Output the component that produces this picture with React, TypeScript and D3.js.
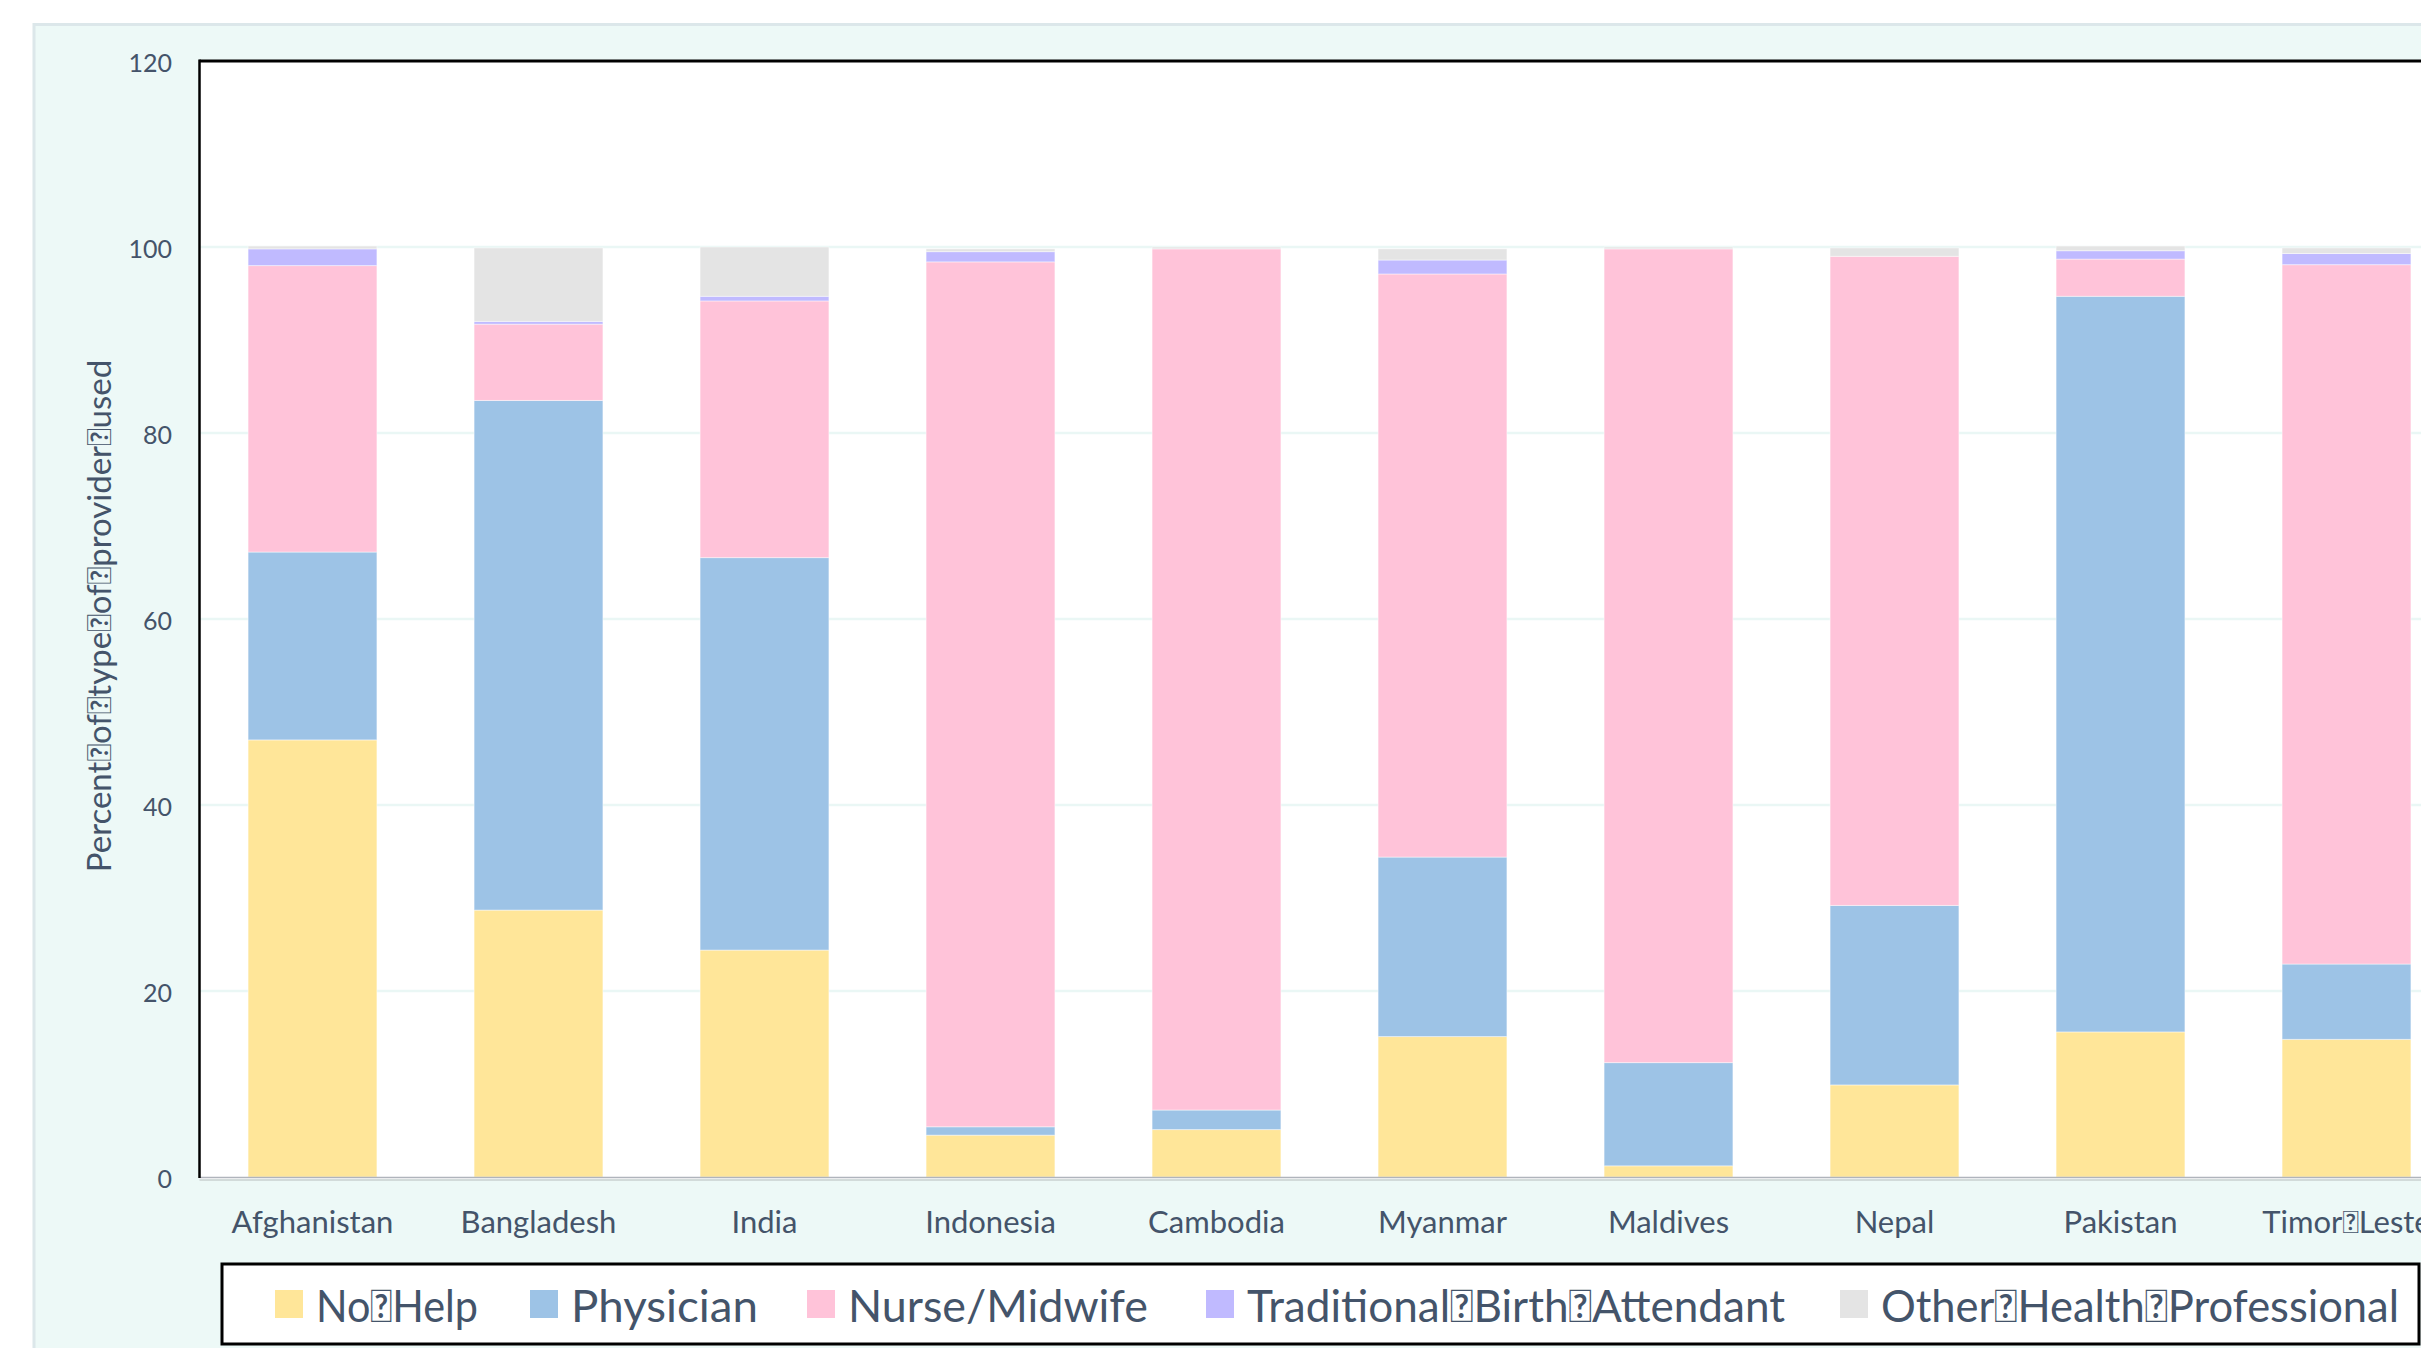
import React, { useEffect, useRef } from "react";
import * as d3 from "d3";

const SEP = "\uF020";

const countries = [
  "Afghanistan",
  "Bangladesh",
  "India",
  "Indonesia",
  "Cambodia",
  "Myanmar",
  "Maldives",
  "Nepal",
  "Pakistan",
  `Timor${SEP}Leste`,
];

const noHelp = [47.0, 28.7, 24.4, 4.5, 5.1, 15.1, 1.2, 9.9, 15.6, 14.8];
const physician = [20.2, 54.8, 42.2, 0.9, 2.1, 19.3, 11.1, 19.3, 79.1, 8.1];
const nurseMidwife = [30.8, 8.2, 27.6, 93.0, 92.6, 62.7, 87.5, 69.8, 4.0, 75.2];
const traditionalBirthAttendant = [1.8, 0.3, 0.5, 1.1, 0.0, 1.5, 0.0, 0.0, 0.9, 1.2];
const otherHealthProfessional = [0.3, 7.9, 5.3, 0.3, 0.2, 1.2, 0.2, 0.9, 0.5, 0.6];

const seriesNames = [
  `No${SEP}Help`,
  "Physician",
  "Nurse/Midwife",
  `Traditional${SEP}Birth${SEP}Attendant`,
  `Other${SEP}Health${SEP}Professional`,
];
const seriesColors = ["#FFE699", "#9DC3E6", "#FFC3D9", "#C0BAFF", "#E4E4E4"];

const yTicks = [0, 20, 40, 60, 80, 100, 120];
const yTitle = `Percent${SEP}of${SEP}type${SEP}of${SEP}provider${SEP}used`;

const W = 2421;
const H = 1348;
const FONT = "Lato, 'Open Sans', sans-serif";
const TEXT = "#44546A";

// legend layout (pixel positions of swatches and text widths in the picture)
const legendX = [275, 530, 807, 1206, 1840];
const legendTextW = [162, 187, 300, 538, 518];

export default function App() {
  const ref = useRef<SVGSVGElement | null>(null);

  useEffect(() => {
    const svg = d3.select(ref.current);
    svg.selectAll("*").remove();

    const plotLeft = 199.5;
    const plotTop = 61;
    const plotBottom = 1177;
    const step = 226;
    const plotRight = plotLeft + step * countries.length;

    const x = d3
      .scaleBand<string>()
      .domain(countries)
      .range([plotLeft, plotRight])
      .paddingInner(0.43)
      .paddingOuter(0.215);
    const y = d3.scaleLinear().domain([0, 120]).range([plotBottom, plotTop]);

    // outer panel
    svg
      .append("rect")
      .attr("x", 34)
      .attr("y", 24.5)
      .attr("width", W)
      .attr("height", H)
      .attr("fill", "#EDF9F7")
      .attr("stroke", "#DCE7EA")
      .attr("stroke-width", 3);

    // plot area
    svg
      .append("rect")
      .attr("x", plotLeft)
      .attr("y", plotTop)
      .attr("width", plotRight - plotLeft)
      .attr("height", plotBottom - plotTop + 2)
      .attr("fill", "#FFFFFF");

    // gridlines
    svg
      .append("g")
      .selectAll("line")
      .data(yTicks.filter((t) => t > 0 && t < 120))
      .join("line")
      .attr("x1", plotLeft)
      .attr("x2", plotRight)
      .attr("y1", (d) => y(d))
      .attr("y2", (d) => y(d))
      .attr("stroke", "#EAF7F5")
      .attr("stroke-width", 2.5);

    // stacked data
    const rows = countries.map((c, i) => ({
      country: c,
      s0: noHelp[i],
      s1: physician[i],
      s2: nurseMidwife[i],
      s3: traditionalBirthAttendant[i],
      s4: otherHealthProfessional[i],
    }));
    const stack = d3.stack<any>().keys(["s0", "s1", "s2", "s3", "s4"]);
    const stacked = stack(rows);

    const gBars = svg.append("g");
    stacked.forEach((layer, li) => {
      gBars
        .append("g")
        .attr("fill", seriesColors[li])
        .selectAll("rect")
        .data(layer)
        .join("rect")
        .attr("x", (d: any) => x(d.data.country) as number)
        .attr("width", x.bandwidth())
        .attr("y", (d: any) => y(d[1]))
        .attr("height", (d: any) => Math.max(0, y(d[0]) - y(d[1])))
        .attr("stroke", "#FFFFFF")
        .attr("stroke-opacity", 0.45)
        .attr("stroke-width", 1);
    });

    // axis lines
    svg
      .append("line")
      .attr("x1", plotLeft)
      .attr("x2", plotRight)
      .attr("y1", plotBottom + 0.5)
      .attr("y2", plotBottom + 0.5)
      .attr("stroke", "#B0B4BC")
      .attr("stroke-width", 1.5);
    svg
      .append("line")
      .attr("x1", plotLeft)
      .attr("x2", plotRight)
      .attr("y1", plotBottom + 3)
      .attr("y2", plotBottom + 3)
      .attr("stroke", "#C8D0D0")
      .attr("stroke-width", 1.5);
    svg
      .append("line")
      .attr("x1", plotLeft)
      .attr("x2", plotRight)
      .attr("y1", plotTop)
      .attr("y2", plotTop)
      .attr("stroke", "#000")
      .attr("stroke-width", 3);
    svg
      .append("line")
      .attr("x1", plotLeft)
      .attr("x2", plotLeft)
      .attr("y1", plotTop - 1.5)
      .attr("y2", plotBottom + 1)
      .attr("stroke", "#000")
      .attr("stroke-width", 2.5);

    // y tick labels
    svg
      .append("g")
      .selectAll("text")
      .data(yTicks)
      .join("text")
      .attr("x", 172)
      .attr("y", (d) => y(d) + 1)
      .attr("text-anchor", "end")
      .attr("dominant-baseline", "central")
      .attr("font-family", FONT)
      .attr("font-size", 25)
      .attr("fill", TEXT)
      .text((d) => String(d));

    // category labels
    svg
      .append("g")
      .selectAll("text")
      .data(countries)
      .join("text")
      .attr("x", (d) => (x(d) as number) + x.bandwidth() / 2)
      .attr("y", 1233)
      .attr("text-anchor", "middle")
      .attr("font-family", FONT)
      .attr("font-size", 31)
      .attr("fill", TEXT)
      .text((d) => d);

    // y title
    svg
      .append("text")
      .attr("transform", `translate(98,616) rotate(-90)`)
      .attr("text-anchor", "middle")
      .attr("dominant-baseline", "central")
      .attr("font-family", FONT)
      .attr("font-size", 33)
      .attr("fill", TEXT)
      .text(yTitle);

    // legend
    svg
      .append("rect")
      .attr("x", 222)
      .attr("y", 1264)
      .attr("width", 2419 - 222)
      .attr("height", 1344 - 1264)
      .attr("fill", "#FFFFFF")
      .attr("stroke", "#000")
      .attr("stroke-width", 3);

    const legendMid = 1304;
    seriesNames.forEach((name, i) => {
      const cx = legendX[i];
      svg
        .append("rect")
        .attr("x", cx)
        .attr("y", legendMid - 14)
        .attr("width", 28)
        .attr("height", 28)
        .attr("fill", seriesColors[i]);
      svg
        .append("text")
        .attr("x", cx + 41)
        .attr("y", legendMid + 1)
        .attr("dominant-baseline", "central")
        .attr("font-family", FONT)
        .attr("font-size", 45)
        .attr("fill", TEXT)
        .attr("textLength", legendTextW[i])
        .attr("lengthAdjust", "spacingAndGlyphs")
        .text(name);
    });
  }, []);

  return (
    <>
      <style>{`body{margin:0;overflow:hidden;background:#fff}`}</style>
      <svg
        ref={ref}
        width={W}
        height={H}
        viewBox={`0 0 ${W} ${H}`}
        style={{ display: "block" }}
      />
    </>
  );
}
